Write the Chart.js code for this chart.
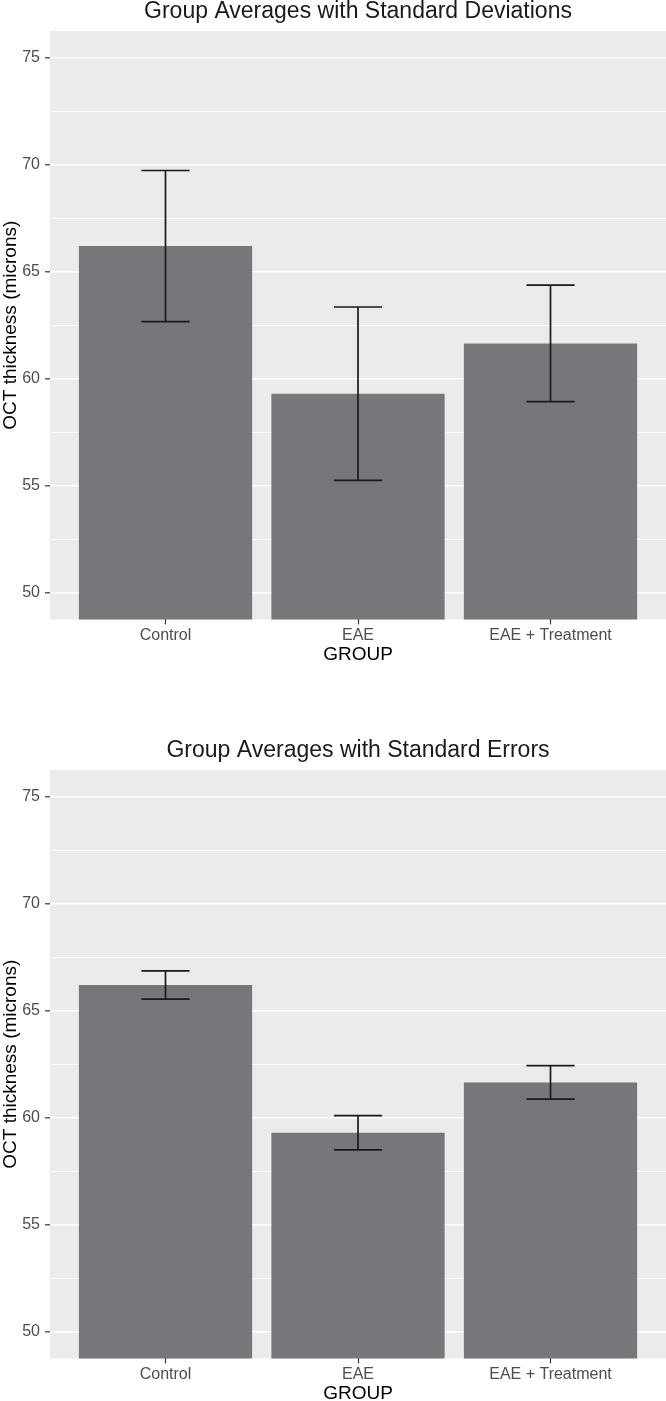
<!DOCTYPE html>
<html>
<head>
<meta charset="utf-8">
<script src="https://cdn.jsdelivr.net/npm/chart.js@4.4.1/dist/chart.umd.min.js"></script>
<style>
  html, body { margin: 0; padding: 0; background: #fff; overflow: hidden; }
  .panel { width: 666px; height: 739px; }
  canvas { display: block; }
</style>
</head>
<body>
<div class="panel"><canvas id="sdChart" width="666" height="739"></canvas></div>
<div class="panel"><canvas id="seChart" width="666" height="739"></canvas></div>
<script>
// groups on the x axis
var categories = ["Control", "EAE", "EAE + Treatment"];
// group means (microns)
var means = [66.2, 59.3, 61.65];
// standard deviations
var sds = [3.53, 4.05, 2.72];
// standard errors
var ses = [0.66, 0.8, 0.78];
// labelled y ticks and the minor grid between them
var yTicks = [50, 55, 60, 65, 70, 75];
var yMinor = [52.5, 57.5, 62.5, 67.5, 72.5];

// grey panel behind the grid
var panelBackground = {
  id: "panelBackground",
  beforeDraw: function (chart) {
    var a = chart.chartArea;
    var ctx = chart.ctx;
    ctx.save();
    ctx.fillStyle = "#ebebeb";
    ctx.fillRect(a.left, a.top, a.right - a.left, a.bottom - a.top);
    ctx.restore();
  },
};

// error bars drawn through the chart scales
var errorBars = {
  id: "errorBars",
  afterDatasetsDraw: function (chart, args, opts) {
    var x = chart.scales.x;
    var y = chart.scales.y;
    var ctx = chart.ctx;
    ctx.save();
    ctx.strokeStyle = "#1a1a1a";
    ctx.lineWidth = 1.7;
    for (var i = 0; i < means.length; i++) {
      var err = opts.errors[i];
      var xc = x.getPixelForValue(i + 1);
      var xl = x.getPixelForValue(i + 1 - 0.125);
      var xr = x.getPixelForValue(i + 1 + 0.125);
      var yt = y.getPixelForValue(means[i] + err);
      var yb = y.getPixelForValue(means[i] - err);
      ctx.beginPath();
      ctx.moveTo(xc, yt);
      ctx.lineTo(xc, yb);
      ctx.moveTo(xl, yt);
      ctx.lineTo(xr, yt);
      ctx.moveTo(xl, yb);
      ctx.lineTo(xr, yb);
      ctx.stroke();
    }
    ctx.restore();
  },
};

function isMajor(v) {
  return yTicks.indexOf(v) !== -1;
}

// create one ggplot-like bar chart
function makeChart(id, titleText, errors) {
  var ctx = document.getElementById(id).getContext("2d");
  return new Chart(ctx, {
    type: "bar",
    data: {
      datasets: [
        {
          data: means.map(function (m, i) {
            return { x: i + 1, y: m };
          }),
          backgroundColor: "#77777b",
          borderWidth: 0,
          barPercentage: 0.9,
          categoryPercentage: 1,
        },
      ],
    },
    plugins: [panelBackground, errorBars],
    options: {
      responsive: false,
      animation: false,
      devicePixelRatio: 1,
      layout: { padding: { top: 0, left: 0, right: 0, bottom: 72.6 } },
      plugins: {
        legend: { display: false },
        tooltip: { enabled: false },
        title: {
          display: true,
          text: titleText,
          fullSize: false,
          color: "#1a1a1a",
          font: { family: "'Liberation Sans', Arial, sans-serif", size: 23, weight: "normal", lineHeight: 1 },
          padding: { top: 0, bottom: 8 },
        },
        errorBars: { errors: errors },
      },
      scales: {
        x: {
          type: "linear",
          min: 0.4,
          max: 3.6,
          offset: false,
          afterBuildTicks: function (scale) {
            scale.ticks = categories.map(function (c, i) {
              return { value: i + 1 };
            });
          },
          afterFit: function (scale) {
            scale.height = 47;
          },
          border: { display: false },
          grid: {
            offset: false,
            drawOnChartArea: false,
            drawTicks: true,
            tickLength: 5,
            tickColor: "#333333",
            tickWidth: 1.2,
          },
          ticks: {
            autoSkip: false,
            maxRotation: 0,
            padding: 2,
            color: "#4d4d4d",
            font: { family: "'Liberation Sans', Arial, sans-serif", size: 16 },
            callback: function (v) {
              return categories[v - 1];
            },
          },
          title: {
            display: true,
            text: "GROUP",
            color: "#000",
            padding: 0,
            font: { family: "'Liberation Sans', Arial, sans-serif", size: 19, lineHeight: 1.2 },
          },
        },
        y: {
          type: "linear",
          min: 48.75,
          max: 76.25,
          afterBuildTicks: function (scale) {
            scale.ticks = yTicks.concat(yMinor).map(function (v) {
              return { value: v };
            });
          },
          afterFit: function (scale) {
            scale.width = 50;
          },
          border: { display: false },
          grid: {
            color: "#ffffff",
            lineWidth: function (c) {
              return c.tick && isMajor(c.tick.value) ? 1.6 : 0.8;
            },
            drawTicks: true,
            tickLength: 5,
            tickWidth: 1.2,
            tickColor: function (c) {
              return c.tick && isMajor(c.tick.value) ? "#333333" : "rgba(0,0,0,0)";
            },
          },
          ticks: {
            padding: 5,
            color: "#4d4d4d",
            font: { family: "'Liberation Sans', Arial, sans-serif", size: 16 },
            callback: function (v) {
              return isMajor(v) ? String(v) : "";
            },
          },
          title: {
            display: true,
            text: "OCT thickness (microns)",
            color: "#000",
            padding: 0,
            font: { family: "'Liberation Sans', Arial, sans-serif", size: 19, lineHeight: 1.1 },
          },
        },
      },
    },
  });
}

makeChart("sdChart", "Group Averages with Standard Deviations", sds);
makeChart("seChart", "Group Averages with Standard Errors", ses);
</script>
</body>
</html>
